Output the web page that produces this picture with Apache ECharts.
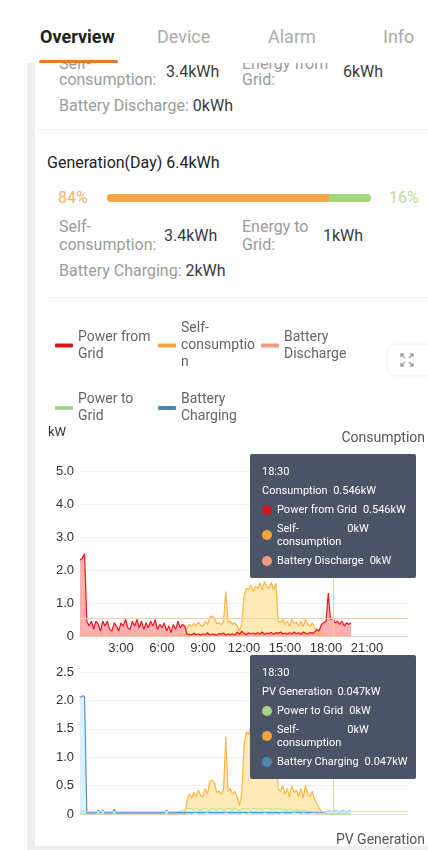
<!DOCTYPE html>
<html>
<head>
<meta charset="utf-8">
<script src="https://cdn.jsdelivr.net/npm/echarts@6/dist/echarts.min.js"></script>
<style>
  body { margin: 0; width: 428px; height: 850px; overflow: hidden; background: #fff; position: relative;
         font-family: Roboto, "Noto Sans", sans-serif; }
  .t { position: absolute; white-space: nowrap; font-size: 16px; line-height: 18px; color: #9b9b9b; }
  .v { color: #3a3a3a; }
  .tabs { position: absolute; left: 0; top: 0; width: 428px; height: 63px; background: #fff; z-index: 5; }
  .tab { position: absolute; top: 26px; font-size: 18px; line-height: 22px; color: #ababab; }
  #chartA { position: absolute; left: 0; top: 300px; width: 428px; height: 355px; }
  #chartB { position: absolute; left: 0; top: 655px; width: 428px; height: 195px; }
</style>
</head>
<body>
<!-- tab bar -->
<div class="tabs">
  <div class="tab" style="left:40px;color:#222;font-weight:bold">Overview</div>
  <div class="tab" style="left:157px">Device</div>
  <div class="tab" style="left:268px">Alarm</div>
  <div class="tab" style="left:383px">Info</div>
  <div style="position:absolute;left:39px;top:60px;width:79px;height:3px;border-radius:2px;background:#e8782a"></div>
</div>
<div style="position:absolute;left:27px;top:63px;width:8px;height:787px;background:#efefef"></div>

<!-- consumption summary (scrolled) -->
<div class="t" style="left:59px;top:55px">Self-</div>
<div class="t" style="left:59px;top:71px">consumption:</div>
<div class="t v" style="left:166px;top:63px">3.4kWh</div>
<div class="t" style="left:242px;top:55px">Energy from</div>
<div class="t" style="left:242px;top:71px">Grid:</div>
<div class="t v" style="left:343px;top:63px">6kWh</div>
<div class="t" style="left:59px;top:97px">Battery Discharge: <span class="v">0kWh</span></div>
<div style="position:absolute;left:35px;top:129px;width:393px;height:1px;background:#f2f2f2"></div>

<!-- generation summary -->
<div class="t" style="left:47px;top:154px;color:#222">Generation(Day) 6.4kWh</div>
<div class="t" style="left:58px;top:189px;color:#f2b66d">84%</div>
<div style="position:absolute;left:107px;top:194px;width:264px;height:8px;border-radius:4px;background:#a6d67b;overflow:hidden">
  <div style="width:84%;height:8px;background:#f5a54a"></div>
</div>
<div class="t" style="left:389px;top:189px;color:#b9dc9a">16%</div>
<div class="t" style="left:59px;top:218px">Self-</div>
<div class="t" style="left:59px;top:236px">consumption:</div>
<div class="t v" style="left:164px;top:227px">3.4kWh</div>
<div class="t" style="left:242px;top:218px">Energy to</div>
<div class="t" style="left:242px;top:236px">Grid:</div>
<div class="t v" style="left:323px;top:227px">1kWh</div>
<div class="t" style="left:59px;top:262px">Battery Charging: <span class="v">2kWh</span></div>
<div style="position:absolute;left:47px;top:297px;width:381px;height:1px;background:#f2f2f2"></div>

<div id="chartA"></div>
<div id="chartB"></div>

<!-- expand button -->
<div style="position:absolute;left:388px;top:345px;width:46px;height:30px;border-radius:8px;background:#fff;box-shadow:0 0 4px rgba(0,0,0,0.08);z-index:4">
  <svg width="14" height="14" viewBox="0 0 14 14" style="position:absolute;left:12px;top:8px" fill="none" stroke="#9a9a9a" stroke-width="1.3">
    <path d="M5 5L1 1M1 4V1H4"/><path d="M9 5L13 1M10 1H13V4"/>
    <path d="M5 9L1 13M1 10V13H4"/><path d="M9 9L13 13M13 10V13H10"/>
  </svg>
</div>
<div style="position:absolute;left:27px;top:846px;width:401px;height:4px;background:#eeeeee;z-index:4"></div>

<script>
// 10-minute slots, 0:00 .. 24:00
var times = [];
for (var i = 0; i <= 144; i++) {
  var m = i * 10;
  times.push(Math.floor(m / 60) + ':' + ('0' + (m % 60)).slice(-2));
}
var xTickLabels = ['3:00', '6:00', '9:00', '12:00', '15:00', '18:00', '21:00'];

// values in kW, 0:00 .. 19:50 (one row per hour)
var powerFromGrid = [
  2.3, 2.35, 2.5, 0.45, 0.3, 0.45,
  0.2, 0.45, 0.35, 0.15, 0.45, 0.3,
  0.45, 0.2, 0.15, 0.4, 0.3, 0.15,
  0.4, 0.3, 0.5, 0.25, 0.2, 0.45,
  0.3, 0.5, 0.25, 0.45, 0.2, 0.4,
  0.25, 0.45, 0.3, 0.5, 0.2, 0.35,
  0.25, 0.4, 0.15, 0.3, 0.1, 0.35,
  0.2, 0.45, 0.25, 0.35, 0.3, 0.05,
  0.05, 0.03, 0.08, 0.04, 0.06, 0.02,
  0.07, 0.04, 0.1, 0.03, 0.06, 0.05,
  0.02, 0.08, 0.05, 0.09, 0.03, 0.06,
  0.04, 0.07, 0.03, 0.12, 0.05, 0.15,
  0.08, 0.04, 0.1, 0.06, 0.09, 0.05,
  0.1, 0.06, 0.12, 0.05, 0.09, 0.07,
  0.11, 0.05, 0.1, 0.08, 0.12, 0.06,
  0.09, 0.05, 0.1, 0.06, 0.12, 0.07,
  0.1, 0.05, 0.12, 0.08, 0.06, 0.11,
  0.08, 0.12, 0.2, 0.15, 0.35, 0.4,
  0.45, 1.3, 0.5, 0.546, 0.4, 0.45,
  0.35, 0.45, 0.3, 0.4, 0.35, 0.4
];
var selfConsumption = [
  0, 0, 0, 0, 0, 0,
  0, 0, 0, 0, 0, 0,
  0, 0, 0, 0, 0, 0,
  0, 0, 0, 0, 0, 0,
  0, 0, 0, 0, 0, 0,
  0, 0, 0, 0, 0, 0,
  0, 0, 0, 0, 0, 0,
  0, 0, 0, 0, 0, 0.25,
  0.35, 0.28, 0.38, 0.3, 0.42, 0.32,
  0.3, 0.45, 0.35, 0.58, 0.6, 0.55,
  0.38, 0.4, 0.35, 0.42, 1.35, 0.4,
  0.45, 0.35, 0.4, 0.3, 0.15, 0.35,
  1.2, 1.45, 1.4, 1.55, 1.35, 1.5,
  1.45, 1.6, 1.4, 1.65, 1.5, 1.45,
  1.62, 1.4, 1.6, 0.45, 0.4, 0.5,
  0.35, 0.45, 0.3, 0.5, 0.38, 0.42,
  0.3, 0.45, 0.28, 0.5, 0.35, 0.3,
  0.4, 0.25, 0.18, 0.1, 0.05, 0.02,
  0, 0, 0, 0, 0, 0,
  0, 0, 0, 0, 0, 0
];
var batteryDischarge = [
  0, 0, 0, 0, 0, 0,  0, 0, 0, 0, 0, 0,  0, 0, 0, 0, 0, 0,  0, 0, 0, 0, 0, 0,
  0, 0, 0, 0, 0, 0,  0, 0, 0, 0, 0, 0,  0, 0, 0, 0, 0, 0,  0, 0, 0, 0, 0, 0,
  0, 0, 0, 0, 0, 0,  0, 0, 0, 0, 0, 0,  0, 0, 0, 0, 0, 0,  0, 0, 0, 0, 0, 0,
  0, 0, 0, 0, 0, 0,  0, 0, 0, 0, 0, 0,  0, 0, 0, 0, 0, 0,  0, 0, 0, 0, 0, 0,
  0, 0, 0, 0, 0, 0,  0, 0, 0, 0, 0, 0,  0, 0, 0, 0, 0, 0,  0, 0, 0, 0, 0, 0
];
var powerToGrid = [
  0, 0, 0, 0, 0, 0,
  0, 0, 0, 0, 0, 0,
  0, 0, 0, 0, 0, 0,
  0, 0, 0, 0, 0, 0,
  0, 0, 0, 0, 0, 0,
  0, 0, 0, 0, 0, 0,
  0, 0, 0, 0, 0, 0,
  0.01, 0.03, 0.05, 0.07, 0.08, 0.09,
  0.1, 0.09, 0.07, 0.1, 0.08, 0.06,
  0.09, 0.1, 0.07, 0.06, 0.1, 0.08,
  0.07, 0.09, 0.1, 0.06, 0.08, 0.1,
  0.09, 0.07, 0.1, 0.08, 0.06, 0.09,
  0.1, 0.08, 0.09, 0.07, 0.1, 0.09,
  0.08, 0.1, 0.07, 0.09, 0.1, 0.08,
  0.09, 0.07, 0.1, 0.08, 0.09, 0.07,
  0.08, 0.06, 0.09, 0.07, 0.05, 0.08,
  0.06, 0.07, 0.05, 0.06, 0.04, 0.05,
  0.03, 0.04, 0.02, 0.01, 0, 0,
  0, 0, 0, 0, 0, 0,
  0, 0, 0, 0, 0, 0
];
var batteryCharging = [
  2.05, 2.08, 2.07, 0.02, 0.02, 0.02,
  0.02, 0.02, 0.07, 0.02, 0.07, 0.02,
  0.02, 0.02, 0.02, 0.08, 0.02, 0.02,
  0.02, 0.02, 0.02, 0.02, 0.02, 0.02,
  0.02, 0.02, 0.02, 0.02, 0.02, 0.02,
  0.02, 0.02, 0.02, 0.02, 0.02, 0.02,
  0.02, 0.02, 0.07, 0.02, 0.02, 0.02,
  0.02, 0.02, 0.03, 0.02, 0.03, 0.02,
  0.03, 0.02, 0.03, 0.04, 0.02, 0.03,
  0.02, 0.03, 0.04, 0.02, 0.03, 0.02,
  0.03, 0.02, 0.03, 0.02, 0.04, 0.03,
  0.02, 0.03, 0.02, 0.03, 0.02, 0.03,
  0.03, 0.02, 0.04, 0.03, 0.02, 0.03,
  0.02, 0.03, 0.02, 0.04, 0.03, 0.02,
  0.03, 0.02, 0.03, 0.02, 0.03, 0.04,
  0.02, 0.03, 0.02, 0.03, 0.04, 0.03,
  0.03, 0.02, 0.04, 0.03, 0.02, 0.03,
  0.03, 0.04, 0.03, 0.04, 0.03, 0.04,
  0.04, 0.05, 0.045, 0.047, 0.05, 0.045,
  0.04, 0.05, 0.045, 0.04, 0.05, 0.045
];
var tipIndex = 111; // 18:30

var colors = {
  'Power from Grid': '#d0161e',
  'Self-consumption': '#f4a43c',
  'Battery Discharge': '#f09a84',
  'Power to Grid': '#a9d18e',
  'Battery Charging': '#5187ab'
};
var legendText = {
  'Power from Grid': 'Power from\nGrid',
  'Self-consumption': 'Self-\nconsumptio\nn',
  'Battery Discharge': 'Battery\nDischarge',
  'Power to Grid': 'Power to\nGrid',
  'Battery Charging': 'Battery\nCharging'
};

function fmt(v) {
  return String(parseFloat((+v || 0).toFixed(3)));
}

// tooltip body like the app: time, total, one row per series
function tipHtml(params, title, names) {
  var rows = names.map(function (n) {
    return params.filter(function (p) { return p.seriesName === n; })[0];
  }).filter(Boolean);
  var total = 0;
  rows.forEach(function (p) { total += (+p.value || 0); });
  var html = '<div style="line-height:19px">' + params[0].axisValue + '</div>' +
    '<div style="line-height:19px">' + title + '&nbsp;&nbsp;' + fmt(total) + 'kW</div>';
  rows.forEach(function (p) {
    var two = p.seriesName === 'Self-consumption';
    html += '<div style="display:flex;align-items:center;height:' + (two ? 32 : 19) + 'px">' +
      '<span style="flex:none;width:10px;height:10px;border-radius:50%;background:' + colors[p.seriesName] + ';margin-right:5px"></span>' +
      '<span style="line-height:' + (two ? 13 : 19) + 'px">' + (two ? 'Self-<br>consumption' : p.seriesName) + '</span>' +
      '<span style="margin-left:6px;' + (two ? 'align-self:flex-start;margin-top:3px;line-height:13px' : '') + '">' + fmt(p.value) + 'kW</span></div>';
  });
  return html;
}

function tooltipBase(pos) {
  return {
    trigger: 'axis',
    triggerOn: 'none',
    alwaysShowContent: true,
    transitionDuration: 0,
    position: pos,
    backgroundColor: '#4b5467',
    borderWidth: 0,
    padding: [8, 12],
    textStyle: { color: '#fff', fontSize: 11, fontFamily: 'Roboto' },
    extraCssText: 'box-shadow:none;border-radius:2px;width:142px;',
    axisPointer: {
      type: 'cross',
      label: { show: false },
      lineStyle: { color: '#f3cf9a', width: 1, type: 'solid' },
      crossStyle: { color: '#f3cf9a', width: 1, type: 'solid' }
    }
  };
}

function xAxisBase(showLabels) {
  return {
    type: 'category',
    boundaryGap: false,
    data: times,
    axisLine: { lineStyle: { color: '#dcdcdc' } },
    axisTick: { show: false },
    axisLabel: {
      show: showLabels,
      color: '#333',
      fontSize: 13,
      margin: 6,
      interval: function (idx, val) { return xTickLabels.indexOf(val) >= 0; }
    },
    splitLine: { show: false }
  };
}

function yAxisBase(max, step) {
  return {
    type: 'value',
    min: 0,
    max: max,
    interval: step,
    axisLine: { show: false },
    axisTick: { show: false },
    axisLabel: {
      color: '#333', fontSize: 13, margin: 6,
      formatter: function (v) { return v === 0 ? '0' : v.toFixed(1); }
    },
    splitLine: { lineStyle: { color: '#f1f1f1' } }
  };
}

function lineSeries(name, data, area) {
  var s = {
    name: name,
    type: 'line',
    data: data,
    symbol: 'none',
    color: colors[name],
    lineStyle: { color: colors[name], width: 1.2 },
    itemStyle: { color: colors[name] }
  };
  if (area) s.areaStyle = { color: area, opacity: 1 };
  return s;
}

var legendStyle = {
  icon: 'roundRect',
  itemWidth: 18,
  itemHeight: 4,
  itemGap: 5,
  padding: 0,
  formatter: function (n) { return legendText[n]; },
  textStyle: { color: '#666', fontSize: 14, lineHeight: 17, width: 75, fontFamily: 'Roboto' }
};

// ---- consumption chart (with legend) ----
var chartA = echarts.init(document.getElementById('chartA'));
chartA.setOption({
  animation: false,
  title: [
    { text: 'Consumption', right: 3, top: 131, padding: 0,
      textStyle: { color: '#555', fontSize: 14, fontWeight: 'normal', fontFamily: 'Roboto' } },
    { text: 'kW', left: 48, top: 126, padding: 0,
      textStyle: { color: '#333', fontSize: 13, fontWeight: 'normal', fontFamily: 'Roboto' } }
  ],
  legend: [
    Object.assign({ left: 55, top: 20, data: ['Power from Grid', 'Self-consumption', 'Battery Discharge'] }, legendStyle),
    Object.assign({ left: 55, top: 91, data: ['Power to Grid', 'Battery Charging'] }, legendStyle)
  ],
  grid: { left: 80, right: 20, top: 171, height: 165 },
  tooltip: Object.assign(tooltipBase([250, 154]), {
    formatter: function (params) {
      return tipHtml(params, 'Consumption', ['Power from Grid', 'Self-consumption', 'Battery Discharge']);
    }
  }),
  xAxis: xAxisBase(true),
  yAxis: yAxisBase(5, 1),
  series: [
    lineSeries('Self-consumption', selfConsumption, '#fcd5a8'),
    lineSeries('Battery Discharge', batteryDischarge),
    lineSeries('Power from Grid', powerFromGrid, 'rgba(236,100,100,0.55)'),
    // only here so the shared legend lists them
    lineSeries('Power to Grid', []),
    lineSeries('Battery Charging', [])
  ]
});
chartA.dispatchAction({ type: 'showTip', seriesIndex: 2, dataIndex: tipIndex });

// ---- PV generation chart ----
var chartB = echarts.init(document.getElementById('chartB'));
chartB.setOption({
  animation: false,
  title: { text: 'PV Generation', right: 3, top: 178, padding: 0,
    textStyle: { color: '#555', fontSize: 14, fontWeight: 'normal', fontFamily: 'Roboto' } },
  grid: { left: 80, right: 20, top: 17, height: 142 },
  tooltip: Object.assign(tooltipBase([250, 0]), {
    formatter: function (params) {
      return tipHtml(params, 'PV Generation', ['Power to Grid', 'Self-consumption', 'Battery Charging']);
    }
  }),
  xAxis: xAxisBase(false),
  yAxis: yAxisBase(2.5, 0.5),
  series: [
    lineSeries('Self-consumption', selfConsumption, '#fcd5a8'),
    lineSeries('Power to Grid', powerToGrid, '#d6e9c8'),
    lineSeries('Battery Charging', batteryCharging, '#c9dbe9')
  ]
});
chartB.dispatchAction({ type: 'showTip', seriesIndex: 2, dataIndex: tipIndex });
</script>
</body>
</html>
